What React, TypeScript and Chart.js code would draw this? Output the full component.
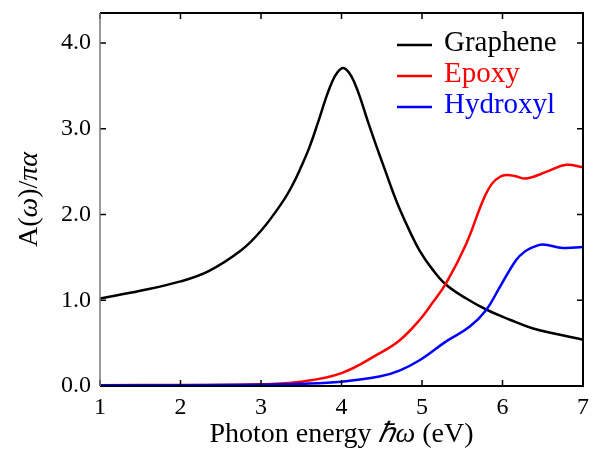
import { useEffect, useRef } from "react";
import { Chart, registerables } from "chart.js";

Chart.register(...registerables);

// Absorption spectra A(ω)/πα versus photon energy (eV)
const grapheneEnergy = [1.0, 1.5, 2.0, 2.35, 2.75, 3.0, 3.27, 3.4, 3.5, 3.6, 3.7, 3.8, 3.88, 3.95, 4.02, 4.09, 4.16, 4.24, 4.34, 4.44, 4.54, 4.64, 4.72, 4.85, 4.97, 5.13, 5.3, 5.55, 5.8, 6.1, 6.38, 6.7, 7.0];
const grapheneValues = [1.02, 1.11, 1.22, 1.34, 1.58, 1.81, 2.15, 2.36, 2.56, 2.78, 3.05, 3.34, 3.54, 3.66, 3.71, 3.66, 3.54, 3.34, 3.05, 2.78, 2.52, 2.26, 2.07, 1.8, 1.58, 1.36, 1.18, 1.02, 0.89, 0.77, 0.67, 0.6, 0.54];

const epoxyEnergy = [1.0, 2.0, 3.0, 3.5, 4.0, 4.47, 4.72, 4.97, 5.13, 5.3, 5.55, 5.76, 5.87, 5.97, 6.05, 6.15, 6.3, 6.55, 6.79, 7.0];
const epoxyValues = [0.01, 0.012, 0.02, 0.05, 0.15, 0.38, 0.53, 0.77, 0.97, 1.2, 1.66, 2.17, 2.36, 2.44, 2.46, 2.45, 2.42, 2.5, 2.58, 2.55];

const hydroxylEnergy = [1.0, 2.0, 3.0, 3.5, 4.0, 4.47, 4.72, 4.97, 5.3, 5.59, 5.8, 5.97, 6.17, 6.28, 6.38, 6.5, 6.75, 7.0];
const hydroxylValues = [0.008, 0.01, 0.015, 0.025, 0.05, 0.11, 0.18, 0.3, 0.52, 0.69, 0.89, 1.16, 1.47, 1.57, 1.62, 1.65, 1.61, 1.62];

const seriesLabels = ["Graphene", "Epoxy", "Hydroxyl"];
const seriesColors = ["#000000", "#ff0000", "#0000ff"];

const xTicks = [1, 2, 3, 4, 5, 6, 7];
const yTicks = [0, 1, 2, 3, 4];

const SERIF = "'Liberation Serif', 'Times New Roman', serif";

const toPoints = (xs: number[], ys: number[]) => xs.map((x, i) => ({ x, y: ys[i] }));

type Segment = { text: string; italic?: boolean };

function drawSegments(ctx: CanvasRenderingContext2D, segs: Segment[], size: number, cx: number, baseline: number) {
  const fontFor = (s: Segment) => `${s.italic ? "italic " : ""}${size}px ${SERIF}`;
  let total = 0;
  for (const s of segs) {
    ctx.font = fontFor(s);
    total += ctx.measureText(s.text).width;
  }
  let x = cx - total / 2;
  ctx.textAlign = "left";
  ctx.textBaseline = "alphabetic";
  for (const s of segs) {
    ctx.font = fontFor(s);
    ctx.fillText(s.text, x, baseline);
    x += ctx.measureText(s.text).width;
  }
}

const zeroPadding = (s: any) => {
  s.paddingTop = 0;
  s.paddingBottom = 0;
  s.paddingLeft = 0;
  s.paddingRight = 0;
};

// Box frame, inward tick marks, axis titles and legend
const framePlugin = {
  id: "frame",
  afterDatasetsDraw(chart: any) {
    const { ctx, chartArea } = chart;
    const { left, right, top, bottom } = chartArea;
    const xs = chart.scales.x;
    const ys = chart.scales.y;
    ctx.save();

    ctx.strokeStyle = "#000";
    ctx.lineWidth = 1.5;
    ctx.beginPath();
    for (const t of xs.ticks) {
      const px = xs.getPixelForValue(t.value);
      ctx.moveTo(px, bottom);
      ctx.lineTo(px, bottom - 6);
      ctx.moveTo(px, top);
      ctx.lineTo(px, top + 6);
    }
    for (const t of ys.ticks) {
      const py = ys.getPixelForValue(t.value);
      ctx.moveTo(left, py);
      ctx.lineTo(left + 6, py);
      ctx.moveTo(right, py);
      ctx.lineTo(right - 6, py);
    }
    ctx.stroke();

    ctx.lineWidth = 2;
    ctx.beginPath();
    ctx.moveTo(left, top);
    ctx.lineTo(right, top);
    ctx.lineTo(right, bottom);
    ctx.lineTo(left, bottom);
    ctx.stroke();

    ctx.strokeStyle = "#777";
    ctx.lineWidth = 1.5;
    ctx.beginPath();
    ctx.moveTo(left, top);
    ctx.lineTo(left, bottom);
    ctx.stroke();

    // axis titles
    ctx.fillStyle = "#000";
    drawSegments(
      ctx,
      [{ text: "Photon energy " }, { text: "ℏω", italic: true }, { text: " (eV)" }],
      28,
      (left + right) / 2,
      442
    );
    ctx.save();
    ctx.translate(37, (top + bottom) / 2);
    ctx.rotate(-Math.PI / 2);
    drawSegments(
      ctx,
      [{ text: "A(" }, { text: "ω", italic: true }, { text: ")/" }, { text: "πα", italic: true }],
      28,
      0,
      0
    );
    ctx.restore();

    // legend
    chart.data.datasets.forEach((ds: any, i: number) => {
      const ly = 45 + i * 31;
      ctx.strokeStyle = ds.borderColor;
      ctx.lineWidth = 2.5;
      ctx.beginPath();
      ctx.moveTo(397, ly);
      ctx.lineTo(432, ly);
      ctx.stroke();
      ctx.fillStyle = ds.borderColor;
      ctx.font = `29px ${SERIF}`;
      ctx.textAlign = "left";
      ctx.textBaseline = "alphabetic";
      ctx.fillText(ds.label, 444, ly + 6);
    });

    ctx.restore();
  },
};

export default function App() {
  const canvasRef = useRef<HTMLCanvasElement | null>(null);

  useEffect(() => {
    const canvas = canvasRef.current;
    if (!canvas) return;
    const seriesData = [
      toPoints(grapheneEnergy, grapheneValues),
      toPoints(epoxyEnergy, epoxyValues),
      toPoints(hydroxylEnergy, hydroxylValues),
    ];
    const drawOrder = [2, 1, 0];
    const chart = new Chart(canvas, {
      type: "line",
      data: {
        datasets: seriesData.map((d, i) => ({
          label: seriesLabels[i],
          data: d,
          borderColor: seriesColors[i],
          backgroundColor: seriesColors[i],
          borderWidth: 2.5,
          pointRadius: 0,
          fill: false,
          tension: 0.4,
          order: drawOrder[i],
        })),
      },
      options: {
        animation: false,
        responsive: false,
        maintainAspectRatio: false,
        layout: { padding: { left: 0, top: 13, right: 11, bottom: 0 } },
        plugins: { legend: { display: false }, tooltip: { enabled: false } },
        scales: {
          x: {
            type: "linear",
            min: 1,
            max: 7,
            afterFit: (s: any) => {
              s.height = 64;
              zeroPadding(s);
            },
            afterBuildTicks: (s: any) => {
              s.ticks = xTicks.map((v) => ({ value: v }));
            },
            grid: { display: false, drawTicks: false },
            border: { display: false },
            ticks: {
              color: "#000",
              padding: 7,
              maxRotation: 0,
              font: { family: SERIF, size: 24 },
              callback: (v: any) => String(v),
            },
          },
          y: {
            type: "linear",
            min: 0,
            max: 4.35,
            afterFit: (s: any) => {
              s.width = 100;
              zeroPadding(s);
            },
            afterBuildTicks: (s: any) => {
              s.ticks = yTicks.map((v) => ({ value: v }));
            },
            grid: { display: false, drawTicks: false },
            border: { display: false },
            ticks: {
              color: "#000",
              padding: 9,
              font: { family: SERIF, size: 24 },
              callback: (v: any) => Number(v).toFixed(1),
            },
          },
        },
      },
      plugins: [framePlugin],
    });
    return () => chart.destroy();
  }, []);

  return (
    <div style={{ position: "fixed", left: 0, top: 0, width: 594, height: 450, background: "#fff" }}>
      <canvas ref={canvasRef} width={594} height={450} style={{ display: "block" }} />
    </div>
  );
}
